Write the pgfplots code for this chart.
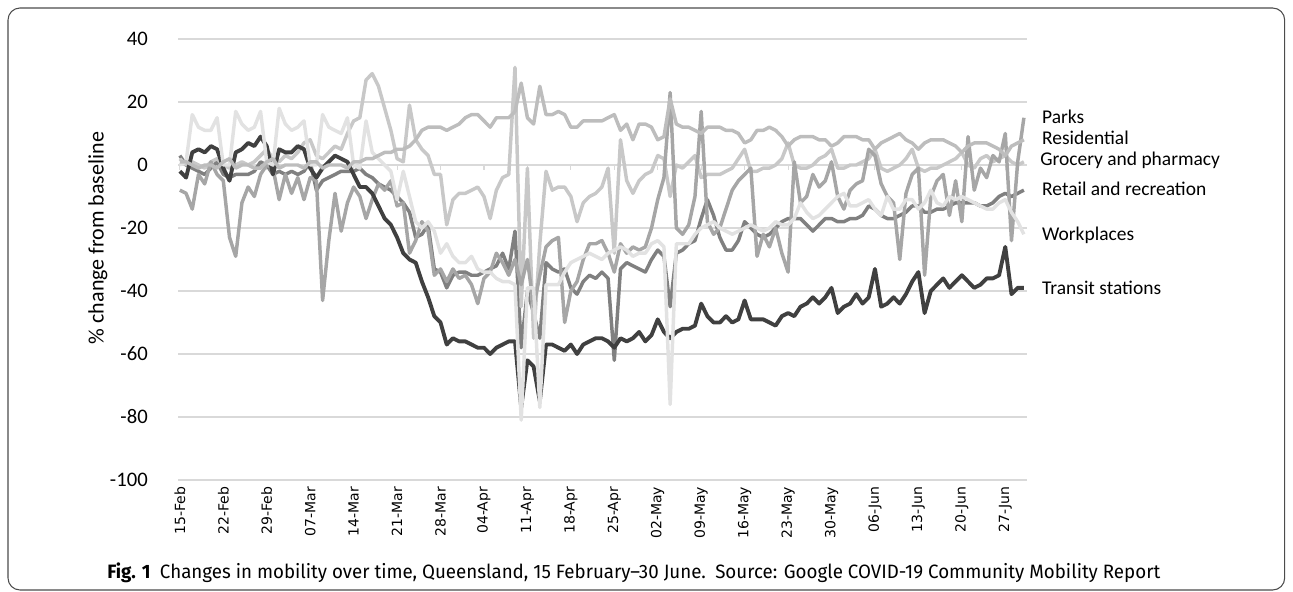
\documentclass[border=0pt]{standalone}
\usepackage{fontspec}
\setmainfont{Carlito}
\newfontfamily\tickfont{DejaVu Sans}
\newfontfamily\capfont{Fira Sans}
\usepackage{graphicx}
\usepackage{pgfplots}
\usepackage{pgfplotstable}
\pgfplotsset{compat=1.18}
\definecolor{gridc}{HTML}{D9D9D9}
\definecolor{cT}{HTML}{404040}
\definecolor{cR}{HTML}{808080}
\definecolor{cP}{HTML}{A6A6A6}
\definecolor{cH}{HTML}{BDBDBD}
\definecolor{cG}{HTML}{C8C8C8}
\definecolor{cW}{HTML}{E2E2E2}
\pgfplotstableread{
d T R P H G W
0 -2 3 -8 1 2 0
1 -4 0 -9 1 0 1
2 4 -1 -14 0 1 16
3 5 -2 -3 -1 0 12
4 4 -3 -6 0 -1 11
5 6 -1 1 0 1 11
6 5 1 -3 -1 2 15
7 -1 -3 -5 1 0 0
8 -5 -4 -23 2 -1 0
9 4 -3 -29 -1 0 17
10 5 -3 -12 0 1 13
11 7 -3 -7 0 0 11
12 6 -2 -10 -1 1 12
13 9 1 -3 -1 3 17
14 6 0 0 1 5 1
15 -3 -3 -1 2 2 0
16 5 -2 -11 -1 1 18
17 4 -3 -3 0 3 13
18 4 -2 -9 0 2 11
19 6 -3 -4 0 4 12
20 5 -2 -11 -1 7 14
21 -1 1 -4 1 8 0
22 -4 -8 -5 1 3 0
23 -1 -5 -43 -1 2 16
24 1 -4 -24 0 4 12
25 3 -3 -9 0 6 11
26 2 -2 -21 0 5 10
27 1 -2 -12 -1 10 15
28 -3 -2 -7 1 14 0
29 -7 -1 -10 1 15 -1
30 -7 -3 -17 2 27 14
31 -9 -4 -11 2 29 4
32 -13 -6 -6 3 25 2
33 -17 -7 -8 4 18 0
34 -19 -8 -5 4 11 -2
35 -23 -10 -13 5 2 -11
36 -28 -12 -12 5 1 -2
37 -30 -15 -28 6 19 -10
38 -31 -23 -24 8 8 -18
39 -37 -22 -18 11 5 -20
40 -42 -19 -21 12 3 -18
41 -48 -33 -35 12 -3 -21
42 -50 -34 -33 12 -3 -28
43 -57 -39 -37 11 -19 -25
44 -55 -35 -33 12 -11 -29
45 -56 -34 -36 13 -9 -31
46 -56 -34 -35 15 -9 -31
47 -57 -35 -38 16 -8 -29
48 -58 -35 -44 16 -7 -33
49 -58 -34 -36 14 -10 -34
50 -60 -33 -34 12 -17 -34
51 -58 -32 -28 15 -8 -36
52 -57 -28 -31 15 -4 -37
53 -56 -33 -35 15 -3 -37
54 -56 -21 -30 17 31 -38
55 -77 -58 -38 26 -45 -81
56 -62 -40 -30 15 -1 -39
57 -64 -47 -45 13 -55 -39
58 -75 -55 -35 25 -25 -77
59 -57 -31 -26 16 -2 -38
60 -57 -33 -24 16 -8 -38
61 -58 -34 -23 17 -7 -38
62 -59 -33 -50 16 -7 -34
63 -57 -39 -40 12 -10 -31
64 -60 -41 -37 12 -18 -30
65 -57 -37 -30 14 -12 -29
66 -56 -35 -25 14 -10 -28
67 -55 -36 -25 14 -9 -29
68 -55 -34 -24 14 -7 -30
69 -56 -36 -28 15 -1 -28
70 -58 -62 -34 16 -28 -27
71 -55 -33 -25 11 8 -26
72 -56 -31 -28 13 -5 -27
73 -55 -32 -26 8 -9 -29
74 -53 -33 -27 13 -5 -28
75 -56 -34 -26 13 -3 -28
76 -54 -30 -20 12 -2 -25
77 -49 -27 -11 8 3 -24
78 -53 -29 -4 9 2 -26
79 -55 -45 23 21 -10 -76
80 -53 -28 -20 13 0 -25
81 -52 -27 -22 12 -1 -25
82 -52 -25 -19 12 1 -25
83 -51 -24 -10 11 3 -22
84 -44 -17 17 10 -4 -20
85 -48 -11 -18 12 -3 -19
86 -50 -16 -22 12 -3 -18
87 -50 -23 -20 12 -3 -20
88 -48 -27 -14 11 -2 -21
89 -50 -27 -8 11 -1 -22
90 -49 -24 -5 10 2 -21
91 -43 -18 -3 7 5 -20
92 -49 -20 -1 8 -2 -19
93 -49 -22 -29 11 -2 -20
94 -49 -23 -22 11 -1 -21
95 -50 -22 -26 12 -1 -20
96 -51 -20 -20 11 0 -18
97 -48 -18 -28 9 2 -19
98 -47 -17 -34 6 7 -19
99 -48 -17 1 8 0 -17
100 -45 -17 -12 9 -1 -12
101 -44 -19 -10 9 -1 -15
102 -42 -21 -3 9 0 -17
103 -44 -19 -7 8 2 -16
104 -42 -17 -5 8 3 -14
105 -39 -17 1 6 5 -12
106 -47 -18 -10 7 -1 -10
107 -45 -18 -14 9 -1 -9
108 -44 -17 -8 9 0 -13
109 -41 -17 -6 9 0 -13
110 -44 -16 -5 8 1 -12
111 -42 -13 5 8 2 -11
112 -33 -14 3 5 5 -14
113 -45 -16 -6 7 -1 -16
114 -44 -17 -10 8 -2 -10
115 -42 -17 -12 9 -1 -14
116 -44 -16 -30 10 0 -14
117 -41 -15 -9 8 2 -11
118 -37 -13 -3 7 5 -11
119 -34 -13 -1 5 -1 -14
120 -47 -15 -35 7 -2 -12
121 -40 -15 -10 8 -1 -8
122 -38 -14 -5 8 -1 -12
123 -36 -14 -3 8 0 -13
124 -39 -13 -16 7 1 -10
125 -37 -12 -5 6 2 -11
126 -35 -12 -18 4 4 -10
127 -37 -12 9 6 0 -11
128 -39 -12 -8 7 -1 -12
129 -38 -13 -1 7 2 -13
130 -36 -13 -4 7 3 -14
131 -36 -12 3 6 1 -14
132 -35 -10 1 5 2 -12
133 -26 -9 10 3 3 -11
134 -41 -10 -24 6 1 -15
135 -39 -9 1 7 0 -18
136 -39 -8 15 8 1 -22
}\mobility
\begin{document}
\begin{tikzpicture}
\useasboundingbox (0,0) rectangle (969.75pt,444pt);
\draw[black!70, line width=0.8pt, rounded corners=9pt] (6pt,1.5pt) rectangle (963.5pt,438pt);
\begin{axis}[
  at={(133.5pt,84pt)}, anchor=south west,
  scale only axis, width=636.75pt, height=330.75pt,
  xmin=-0.3, xmax=136.5, ymin=-100, ymax=40,
  clip=false,
  axis line style={draw=none},
  tick style={draw=none},
  ymajorgrids, grid style={gridc, line width=1.1pt},
  ytick={-100,-80,-60,-40,-20,0,20,40},
  yticklabels={{-100},{-80},{-60},{-40},{-20},{0},{20},{40}},
  yticklabel style={font=\fontsize{15.5}{18}\selectfont, inner sep=0pt, anchor=east},
  yticklabel shift=22.5pt,
  xtick={0,7,...,133},
  xticklabels={15-Feb,22-Feb,29-Feb,07-Mar,14-Mar,21-Mar,28-Mar,04-Apr,11-Apr,18-Apr,25-Apr,02-May,09-May,16-May,23-May,30-May,06-Jun,13-Jun,20-Jun,27-Jun},
  xticklabel style={font=\tickfont\fontsize{10.5}{12}\selectfont, rotate=90, anchor=east, inner sep=0pt},
  xticklabel shift=5pt,
  every axis plot/.append style={line width=2.6pt, line join=round, mark=none},
]
\pgfplotsinvokeforeach{0,7,...,133}{
  \draw[gridc, line width=0.8pt] (axis cs:#1,0) -- ([yshift=-3.5pt]axis cs:#1,0);
}
\addplot[cR] table[x=d,y=R] {\mobility};
\addplot[cG] table[x=d,y=G] {\mobility};
\addplot[cP] table[x=d,y=P] {\mobility};
\addplot[cT, line width=2.9pt] table[x=d,y=T] {\mobility};
\addplot[cW] table[x=d,y=W] {\mobility};
\addplot[cH] table[x=d,y=H] {\mobility};
\begin{scope}[every node/.style={anchor=west, inner sep=0pt, font=\fontsize{14.6}{16}\selectfont}]
\node at (axis cs:138.9,15.2) {Parks};
\node at (axis cs:138.9,8.6) {Residential};
\node at (axis cs:138.6,1.6) {Grocery and pharmacy};
\node at (axis cs:138.9,-7.6) {Retail and recreation};
\node at (axis cs:138.9,-22.2) {Workplaces};
\node at (axis cs:138.9,-39) {Transit stations};
\end{scope}
\end{axis}
\node[rotate=90, inner sep=0pt, font=\fontsize{16.5}{19}\selectfont] at (73.5pt,265.5pt) {\% change from baseline};
\node[anchor=base west, inner sep=0pt] at (80.25pt,9.75pt) {\resizebox{789.75pt}{\height}{\capfont\fontsize{14.5}{16}\selectfont\textbf{Fig. 1}\enspace Changes in mobility over time, Queensland, 15 February–30 June.\enspace Source: Google COVID-19 Community Mobility Report}};
\end{tikzpicture}
\end{document}
